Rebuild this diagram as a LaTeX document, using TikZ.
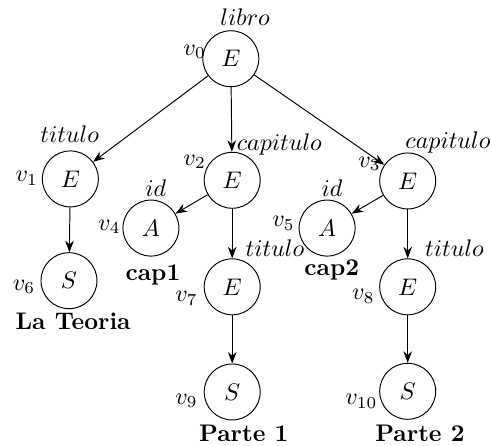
\documentclass[tikz,border=0pt]{standalone}
\usetikzlibrary{arrows.meta}

\begin{document}
\begin{tikzpicture}[
	vert/.style={circle, draw, minimum size=0.82cm, inner sep=0pt},
	lab/.style={inner sep=0pt, anchor=base},
	labw/.style={inner sep=0pt, anchor=base west}
]

\useasboundingbox (0,0) rectangle (7.19,-6.53);

% vertices
\node [vert] (v0) at (3.38,-0.86) {$E$};
\node [vert] (v1) at (1.03,-2.62) {$E$};
\node [vert] (v2) at (3.40,-2.64) {$E$};
\node [vert] (v3) at (5.97,-2.65) {$E$};
\node [vert] (v4) at (2.21,-3.34) {$A$};
\node [vert] (v5) at (4.79,-3.34) {$A$};
\node [vert] (v6) at (1.01,-4.11) {$S$};
\node [vert] (v7) at (3.40,-4.20) {$E$};
\node [vert] (v8) at (5.97,-4.20) {$E$};
\node [vert] (v9) at (3.40,-5.74) {$S$};
\node [vert] (v10) at (5.97,-5.73) {$S$};

\foreach \a/\b in {v0/v1, v0/v2, v0/v3, v1/v6, v2/v4, v2/v7, v3/v5, v3/v8, v7/v9, v8/v10} {
	\draw [-Stealth] (\a) -- (\b);
}

% element names
\node [lab] (n0) at (3.59,-0.37) {$libro$};
\node [lab] (n1) at (1.02,-2.09) {$titulo$};
\node [labw] (n2) at (3.46,-2.20) {$capitulo$};
\node [labw] (n3) at (5.93,-2.17) {$capitulo$};
\node [lab] (n4) at (2.28,-2.88) {$id$};
\node [lab] (n5) at (4.86,-2.88) {$id$};
\node [labw] (n7) at (3.59,-3.76) {$titulo$};
\node [labw] (n8) at (6.22,-3.76) {$titulo$};

% vertex numbers
\node [labw] (i0) at (2.68,-0.81) {$v_0$};
\node [labw] (i1) at (0.22,-2.66) {$v_1$};
\node [labw] (i2) at (2.68,-2.42) {$v_2$};
\node [labw] (i3) at (5.24,-2.45) {$v_3$};
\node [labw] (i4) at (1.43,-3.37) {$v_4$};
\node [labw] (i5) at (3.98,-3.32) {$v_5$};
\node [labw] (i6) at (0.18,-4.25) {$v_6$};
\node [labw] (i7) at (2.56,-4.42) {$v_7$};
\node [labw] (i8) at (5.15,-4.39) {$v_8$};
\node [labw] (i9) at (2.56,-5.92) {$v_9$};
\node [labw] (i10) at (5.05,-5.93) {$v_{10}$};

% values
\node [lab] (c1) at (2.24,-4.11) {\textbf{cap1}};
\node [lab] (c2) at (4.86,-4.04) {\textbf{cap2}};
\node [lab] (s6) at (1.07,-4.83) {\textbf{La Teoria}};
\node [lab] (s9) at (3.57,-6.46) {\textbf{Parte 1}};
\node [lab] (s10) at (6.15,-6.46) {\textbf{Parte 2}};

\end{tikzpicture}
\end{document}
